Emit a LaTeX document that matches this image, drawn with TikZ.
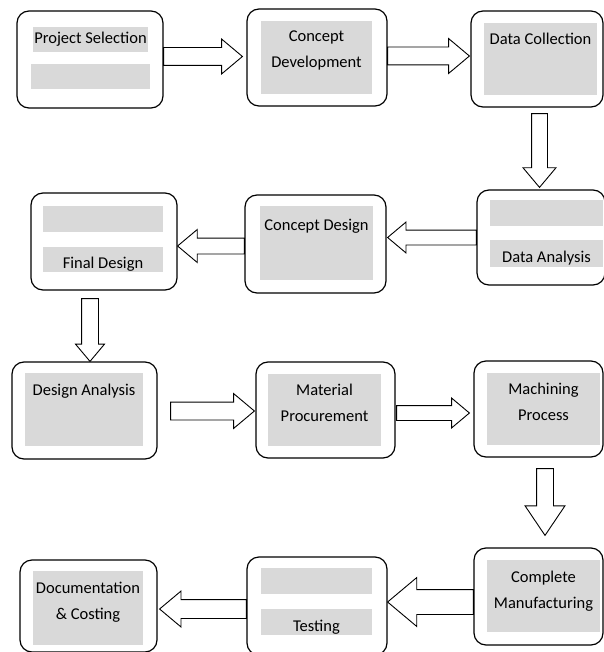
\documentclass[tikz,border=0pt]{standalone}
\usepackage{fontspec}
\setmainfont{Carlito}
\usetikzlibrary{positioning,calc,shapes.arrows}
\tikzset{
box/.style={
  draw,
  line width=1.2pt,
  rounded corners=12pt,
  inner sep=0pt,
},
shade/.style={
  fill=gray!30,
  inner sep=0pt,
  align=center,
  font=\fontsize{16.5}{26}\selectfont,
},
low/.style={
  text height=18pt,
  text depth=0pt,
},
txt/.style={
  inner sep=0pt,
  align=center,
  font=\fontsize{16.5}{26}\selectfont,
},
arr/.style={
  single arrow,
  draw,
  fill=white,
  line width=.9pt,
  outer sep=0pt,
  inner xsep=0pt,
  inner ysep=8.5pt,
  single arrow head extend=8.5pt,
  single arrow tip angle=80,
},
fat/.style={to path={
  let \p1=(\tikztostart), \p2=(\tikztotarget),
      \n1={veclen(\x2-\x1,\y2-\y1)}, \n2={atan2(\y2-\y1,\x2-\x1)} in
  node[arr, minimum height=\n1, rotate=\n2, anchor=tail] at (\p1) {}
}},
}

\begin{document}
\begin{tikzpicture}[x=1pt,y=-1pt]
\useasboundingbox (0,0) rectangle (603,652);

% outer boxes
\node[box, minimum width=146pt, minimum height=97pt] (ps)  at (90,59.5)    {};
\node[box, minimum width=140pt, minimum height=97pt] (cdv) at (317,57.5)   {};
\node[box, minimum width=132pt, minimum height=96pt] (dc)  at (537,59)     {};
\node[box, minimum width=128pt, minimum height=95pt] (da)  at (541,237.5)  {};
\node[box, minimum width=141pt, minimum height=98pt] (cds) at (315.5,244)  {};
\node[box, minimum width=146pt, minimum height=97pt] (fd)  at (104,241.5)  {};
\node[box, minimum width=145pt, minimum height=97pt] (dan) at (84.5,410.5) {};
\node[box, minimum width=139pt, minimum height=96pt] (mp)  at (325.5,410)  {};
\node[box, minimum width=129pt, minimum height=96pt] (mch) at (538.5,409)  {};
\node[box, minimum width=129pt, minimum height=97pt] (cm)  at (538.5,596.5) {};
\node[box, minimum width=140pt, minimum height=98pt] (tst) at (317,606)    {};
\node[box, minimum width=137pt, minimum height=92pt] (doc) at (88.5,606)   {};

% grey fields
\node[shade, minimum width=115pt, minimum height=25pt] (g1a) at (90.5,39.5) {Project Selection};
\node[shade, minimum width=119pt, minimum height=25pt] (g1b) at (90.5,76.5) {};
\node[shade, minimum width=111pt, minimum height=73pt] (g2)  at (316.5,57.5) {};
\node[shade, minimum width=113pt, minimum height=72pt] (g3)  at (540.5,59) {};
\node[shade, minimum width=113pt, minimum height=26pt] (g4a) at (546.5,213) {};
\node[shade, low, minimum width=113pt, minimum height=27pt] (g4b) at (546.5,253.5) {Data Analysis};
\node[shade, minimum width=113pt, minimum height=74pt] (g5)  at (316.5,243) {};
\node[shade, minimum width=120pt, minimum height=26pt] (g6a) at (103,219) {};
\node[shade, low, minimum width=120pt, minimum height=25pt] (g6b) at (103,259.5) {Final Design};
\node[shade, minimum width=118pt, minimum height=73pt] (g7)  at (84,409.5) {};
\node[shade, minimum width=113pt, minimum height=72pt] (g8)  at (324.5,410) {};
\node[shade, minimum width=113pt, minimum height=72pt] (g9)  at (543.5,409) {};
\node[shade, minimum width=113pt, minimum height=72pt] (g10) at (543.5,596) {};
\node[shade, minimum width=111pt, minimum height=26pt] (g11a) at (316.5,581) {};
\node[shade, low, minimum width=111pt, minimum height=26pt] (g11b) at (316.5,622) {Testing};
\node[shade, minimum width=110pt, minimum height=74pt] (g12) at (88,608) {};

% labels
\node[txt, below=10pt of g2.north]  (t2)  {Concept\\Development};
\node[txt, below=10pt of g3.north]  (t3)  {Data Collection};
\node[txt, below=13pt of g5.north]  (t5)  {Concept Design};
\node[txt, below=11pt of g7.north]  (t7)  {Design Analysis};
\node[txt, below=10pt of g8.north]  (t8)  {Material\\Procurement};
\node[txt, below=10pt of g9.north]  (t9)  {Machining\\Process};
\node[txt, below=11pt of g10.north] (t10) {Complete\\Manufacturing};
\node[txt, below=11pt of g12.north] (t12) {Documentation\\\& Costing};

% block arrows
\path ($(ps.east)+(0,-3)$)     edge[fat] ($(cdv.west)+(-4,-1)$)
      ($(cdv.east)+(0,-1.5)$)  edge[fat] ($(dc.west)+(-1,-3)$)
      ($(dc.south)+(2.5,6)$)   edge[fat, arr/.append style={inner ysep=7.5pt}] ($(da.north)+(-1.5,-2)$)
      (da.west)                edge[fat, arr/.append style={inner ysep=7pt, single arrow head extend=8pt}] ($(cds.east)+(1,-6.5)$)
      ($(cds.west)+(0,2)$)     edge[fat, arr/.append style={inner ysep=7.5pt}] ($(fd.east)+(0,4.5)$)
      ($(fd.south)+(-14,8)$)   edge[fat, arr/.append style={inner ysep=8pt, single arrow head extend=6pt}] ($(dan.north)+(5.5,0)$)
      ($(dan.east)+(13,0.5)$)  edge[fat] ($(mp.west)+(-1,1)$)
      ($(mp.east)+(1,3)$)      edge[fat, arr/.append style={inner ysep=7pt, single arrow head extend=7.5pt}] ($(mch.west)+(-4,4)$)
      ($(mch.south)+(6.5,11)$) edge[fat, arr/.append style={inner ysep=8pt, single arrow head extend=11.5pt, single arrow tip angle=68}] ($(cm.north)+(6.5,-12)$)
      ($(cm.west)+(0,5.5)$)    edge[fat, arr/.append style={inner ysep=12pt, single arrow head extend=12pt}] ($(tst.east)+(0,-4)$)
      ($(tst.west)+(0,3)$)     edge[fat, arr/.append style={inner ysep=9pt}] ($(doc.east)+(2,3)$);
\end{tikzpicture}
\end{document}
